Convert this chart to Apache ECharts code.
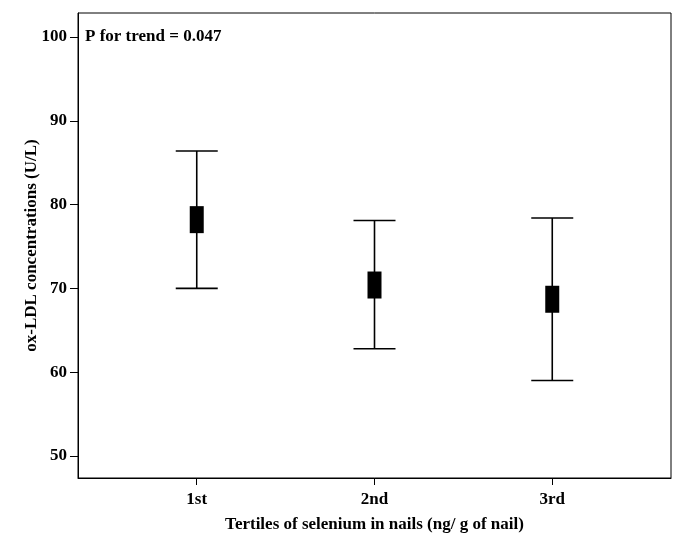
<!DOCTYPE html>
<html>
<head>
<meta charset="utf-8">
<script src="https://cdn.jsdelivr.net/npm/echarts@6/dist/echarts.min.js"></script>
<style>html,body{margin:0;padding:0;background:#fff}#c{width:685px;height:548px}</style>
</head>
<body>
<div id="c"></div>
<script>
var categories = ['1st', '2nd', '3rd'];
var means = [78.2, 70.4, 68.7];
var lowers = [70.0, 62.8, 59.0];
var uppers = [86.4, 78.1, 78.4];
var yTicks = [50, 60, 70, 80, 90, 100];
var annotation = 'P for trend = 0.047';
var xTitle = 'Tertiles of selenium in nails (ng/ g of nail)';
var yTitle = 'ox-LDL concentrations (U/L)';

var font = 'Liberation Serif';
var xPos = categories.map(function (c, i) { return i + 1; });

var chart = echarts.init(document.getElementById('c'), null, {renderer: 'canvas'});
chart.setOption({
  backgroundColor: '#fff',
  animation: false,
  title: {
    text: annotation, left: 85, top: 28, padding: 0,
    textStyle: {fontFamily: font, fontWeight: 'bold', fontSize: 17, color: '#000'}
  },
  grid: {left: 78, top: 13, right: 14, bottom: 70, show: true, borderColor: '#000', borderWidth: 1, backgroundColor: '#fff'},
  xAxis: {
    type: 'value', min: 0.332, max: 3.668,
    name: xTitle, nameLocation: 'middle', nameGap: 38, nameMoveOverlap: false,
    nameTextStyle: {fontFamily: font, fontWeight: 'bold', fontSize: 17, color: '#000'},
    axisLine: {show: true, lineStyle: {color: '#000', width: 1}},
    axisTick: {show: true, length: 7, customValues: xPos, lineStyle: {color: '#000'}},
    axisLabel: {customValues: xPos, margin: 13, fontFamily: font, fontWeight: 'bold', fontSize: 17, color: '#000',
      formatter: function (v) { return categories[Math.round(v) - 1] || ''; }},
    splitLine: {show: false}
  },
  yAxis: {
    type: 'value', min: 47.37, max: 102.86,
    name: yTitle, nameLocation: 'middle', nameGap: 38, nameMoveOverlap: false,
    nameTextStyle: {fontFamily: font, fontWeight: 'bold', fontSize: 17, color: '#000'},
    axisLine: {show: true, lineStyle: {color: '#000', width: 1}},
    axisTick: {show: true, length: 8, customValues: yTicks, lineStyle: {color: '#000'}},
    axisLabel: {customValues: yTicks, margin: 11, fontFamily: font, fontWeight: 'bold', fontSize: 17, color: '#000'},
    splitLine: {show: false}
  },
  series: [
    {
      type: 'custom',
      data: xPos.map(function (x, i) { return [x, lowers[i], uppers[i]]; }),
      renderItem: function (params, api) {
        var lo = api.coord([api.value(0), api.value(1)]);
        var hi = api.coord([api.value(0), api.value(2)]);
        var hw = 21;
        var st = {stroke: '#000', lineWidth: 1.6};
        return {
          type: 'group',
          children: [
            {type: 'line', shape: {x1: hi[0], y1: hi[1], x2: lo[0], y2: lo[1]}, style: st},
            {type: 'line', shape: {x1: hi[0] - hw, y1: hi[1], x2: hi[0] + hw, y2: hi[1]}, style: st},
            {type: 'line', shape: {x1: lo[0] - hw, y1: lo[1], x2: lo[0] + hw, y2: lo[1]}, style: st}
          ]
        };
      },
      z: 2
    },
    {
      type: 'scatter',
      data: xPos.map(function (x, i) { return [x, means[i]]; }),
      symbol: 'rect', symbolSize: [14, 27],
      itemStyle: {color: '#000', opacity: 1},
      z: 3
    }
  ]
});
</script>
</body>
</html>
